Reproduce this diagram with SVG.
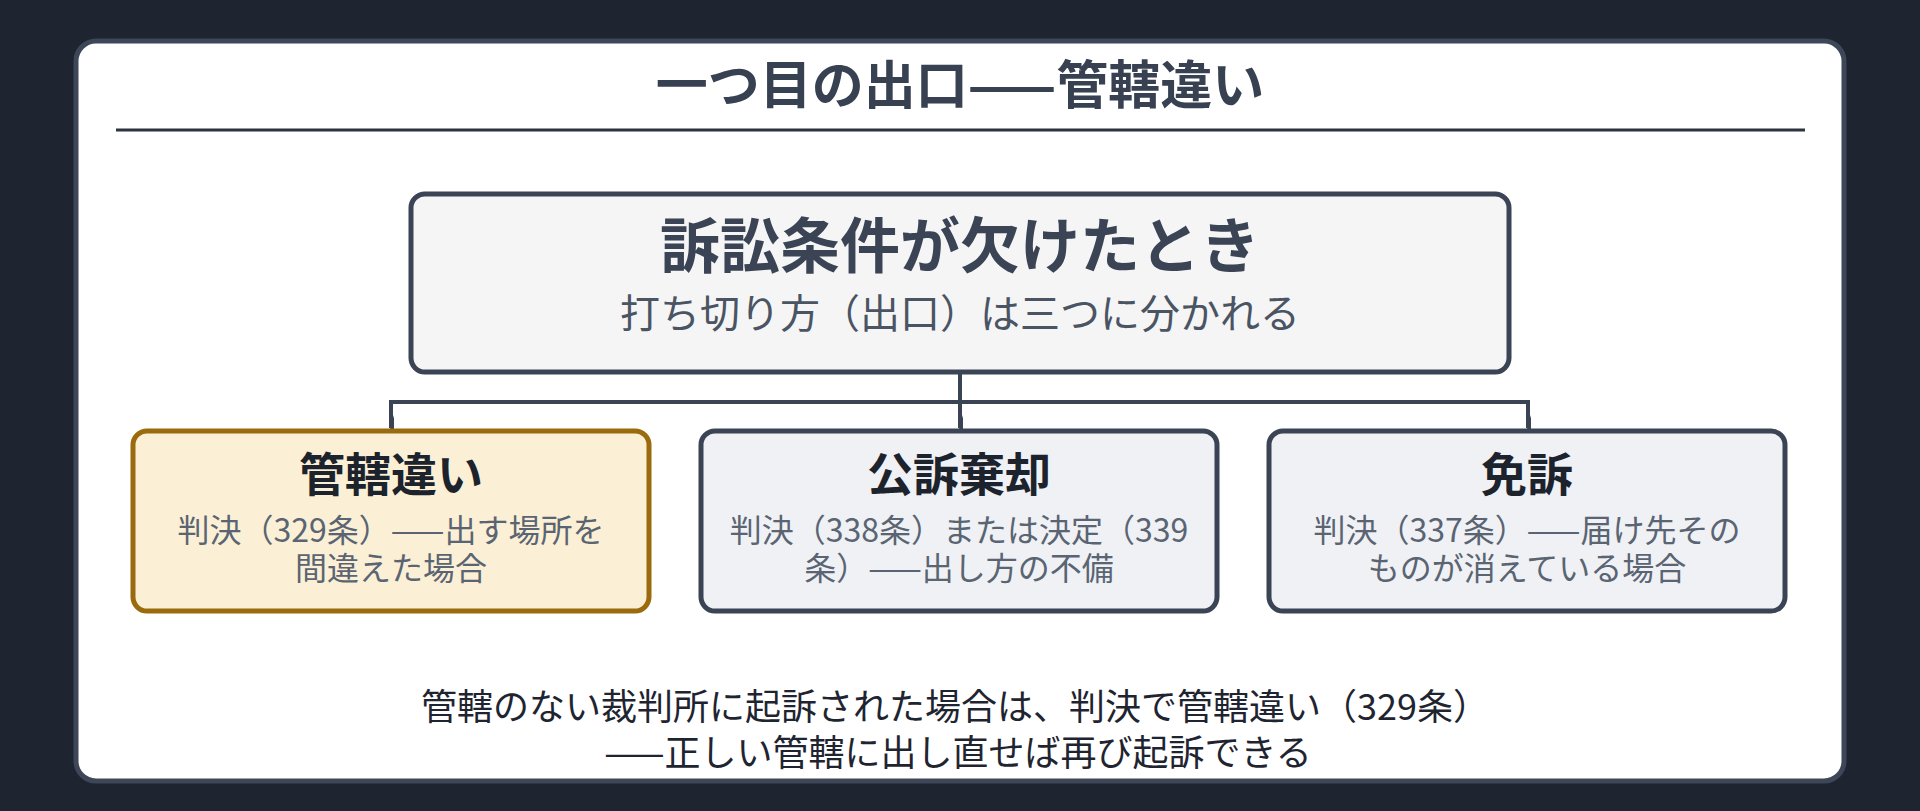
<svg xmlns="http://www.w3.org/2000/svg" width="1920" height="811" viewBox="0 0 1920 811">
<defs>
<style>
.jp{font-family:"Noto Sans CJK JP","Noto Sans CJK SC",sans-serif;text-anchor:middle}
.b{font-weight:700}
.box{stroke:#3a4454;stroke-width:5}
.conn{fill:none;stroke:#3a4454;stroke-width:4}
.desc{font-size:32px;fill:#5a6472}
.ctitle{font-size:46px;fill:#1d232c;font-weight:700}
</style>
<marker id="ah" viewBox="-14 -4 28 5" refX="0" refY="0" markerWidth="28" markerHeight="5" markerUnits="userSpaceOnUse" orient="auto-start-reverse">
<path d="M-13,-3 L13,-3 L0,1 Z" fill="#3a4454"/>
</marker>
</defs>
<rect x="0" y="0" width="1920" height="811" fill="#1e2530"/>
<rect x="76" y="41" width="1768" height="740" rx="20" fill="#ffffff" stroke="#3d4757" stroke-width="5"/>
<g id="title">
<text class="jp b" x="960" y="104" font-size="52" fill="#374151">一つ目の出口——管轄違い</text>
<line x1="116" y1="130" x2="1805" y2="130" stroke="#2d3440" stroke-width="3"/>
</g>
<g id="connectors">
<line class="conn" x1="960" y1="372" x2="960" y2="428" marker-end="url(#ah)"/>
<polyline class="conn" points="391,428 391,402 1528,402 1528,428"/>
<line class="conn" x1="391" y1="410" x2="391" y2="428" marker-end="url(#ah)"/>
<line class="conn" x1="1528" y1="410" x2="1528" y2="428" marker-end="url(#ah)"/>
</g>
<g id="root">
<rect class="box" x="411" y="194" width="1098" height="178" rx="14" fill="#f5f5f6"/>
<text class="jp b" x="960" y="268" font-size="60" fill="#3a4454">訴訟条件が欠けたとき</text>
<text class="jp" x="960" y="328" font-size="40" fill="#4a5463">打ち切り方（出口）は三つに分かれる</text>
</g>
<g id="kankatsu">
<rect x="133" y="431" width="516" height="180" rx="14" fill="#fbf0d5" stroke="#9a6a0c" stroke-width="5"/>
<text class="jp ctitle" x="391" y="491">管轄違い</text>
<text class="jp desc" x="391" y="542">判決（329条）——出す場所を</text>
<text class="jp desc" x="391" y="580">間違えた場合</text>
</g>
<g id="kouso">
<rect class="box" x="701" y="431" width="516" height="180" rx="14" fill="#eff1f5"/>
<text class="jp ctitle" x="959" y="491">公訴棄却</text>
<text class="jp desc" x="959" y="542">判決（338条）または決定（339</text>
<text class="jp desc" x="959" y="580">条）——出し方の不備</text>
</g>
<g id="menso">
<rect class="box" x="1269" y="431" width="516" height="180" rx="14" fill="#eff1f5"/>
<text class="jp ctitle" x="1527" y="491">免訴</text>
<text class="jp desc" x="1527" y="542">判決（337条）——届け先その</text>
<text class="jp desc" x="1527" y="580">ものが消えている場合</text>
</g>
<g id="note">
<text class="jp" x="955" y="720" font-size="36" fill="#1f2530">管轄のない裁判所に起訴された場合は、判決で管轄違い（329条）</text>
<text class="jp" x="958" y="766" font-size="36" fill="#1f2530">——正しい管轄に出し直せば再び起訴できる</text>
</g>
</svg>
